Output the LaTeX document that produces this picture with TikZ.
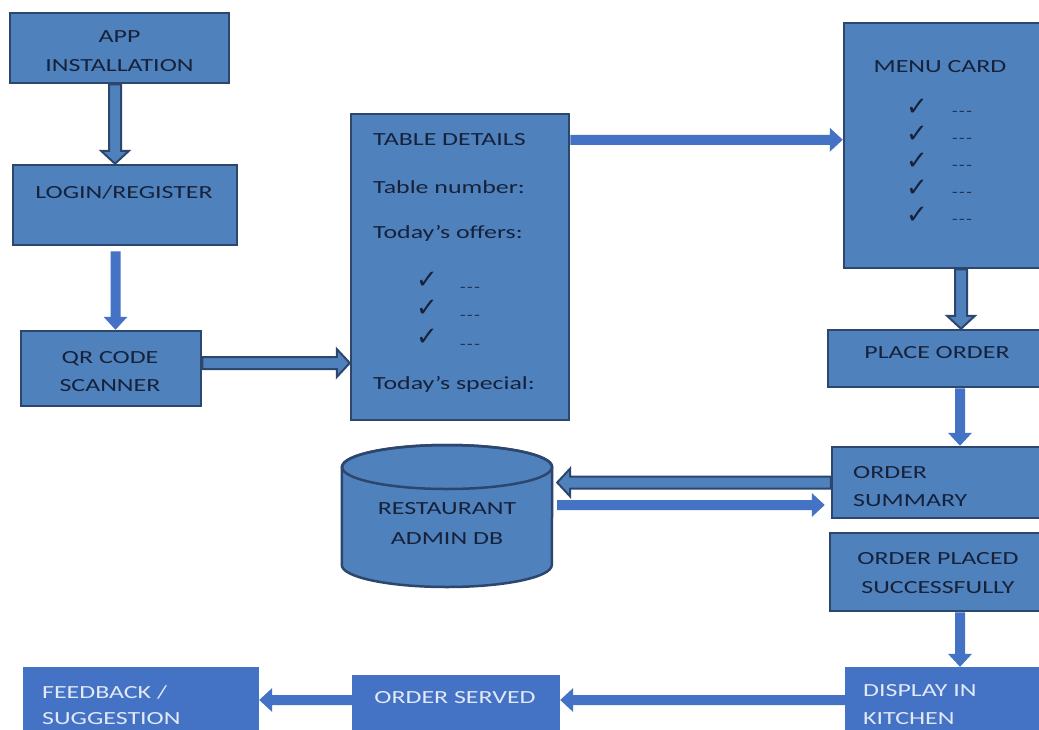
\documentclass[tikz,border=0pt]{standalone}
\usepackage{fontspec}
\setmainfont{Carlito}[FakeStretch=1.4]
\newfontfamily\symfont{DejaVu Sans}
\usetikzlibrary{calc,fit}

\definecolor{boxfill}{RGB}{79,129,189}
\definecolor{boxline}{RGB}{44,70,110}
\definecolor{brightfill}{RGB}{68,114,196}
\definecolor{darktext}{RGB}{22,33,58}
\definecolor{lighttext}{RGB}{226,233,246}

\tikzset{
 box/.style={draw=boxline, line width=2.5pt, fill=boxfill, inner sep=0pt, rectangle},
 bbox/.style={fill=brightfill, inner sep=0pt, rectangle},
 area/.style={inner sep=0pt, rectangle},
 txt/.style={inner sep=0pt, text height=12pt, text depth=0pt, text=darktext, font=\fontsize{18.5}{20}\selectfont},
 ltxt/.style={txt, text=lighttext},
 chk/.style={inner sep=0pt, text=darktext, font=\symfont\fontsize{26}{26}\selectfont},
 dsh/.style={inner sep=0pt, text=darktext, font=\fontsize{13}{13}\selectfont},
 fat/.style={to path={let \p1=(\tikztostart),\p2=(\tikztotarget),
   \n1={veclen(\x2-\x1,\y2-\y1)},\n2={(\x2-\x1)/\n1},\n3={(\y2-\y1)/\n1} in
   ({\x1-(\n3)*\fsw},{\y1+(\n2)*\fsw})
   -- ({\x2-(\n2)*\fhl-(\n3)*\fsw},{\y2-(\n3)*\fhl+(\n2)*\fsw})
   -- ({\x2-(\n2)*\fhl-(\n3)*\fhw},{\y2-(\n3)*\fhl+(\n2)*\fhw})
   -- (\p2)
   -- ({\x2-(\n2)*\fhl+(\n3)*\fhw},{\y2-(\n3)*\fhl-(\n2)*\fhw})
   -- ({\x2-(\n2)*\fhl+(\n3)*\fsw},{\y2-(\n3)*\fhl-(\n2)*\fsw})
   -- ({\x1+(\n3)*\fsw},{\y1-(\n2)*\fsw}) -- cycle}},
 solidarrow/.style={fat, fill=brightfill, draw=none, /utils/exec={\def\fsw{5pt}\def\fhw{12pt}\def\fhl{13pt}}},
 outlinearrow/.style={fat, fill=boxfill, draw=boxline, line width=2pt, line join=miter, /utils/exec={\def\fsw{6pt}\def\fhw{14pt}\def\fhl{13pt}}},
}

\begin{document}
\begin{tikzpicture}[x=1pt,y=-1pt]
\useasboundingbox (0,0) rectangle (1039,729);
\fill[white] (0,0) rectangle (1039,729);
\clip (0,0) rectangle (1039,729);

% boxes
\node[box, fit={(10,13) (229,83)}] (app) {};
\node[box, fit={(13,165) (237,245)}] (login) {};
\node[box, fit={(21,331) (201,406)}] (qr) {};
\node[box, fit={(351,114) (569,420)}] (table) {};
\node[box, fit={(844,23) (1045,268)}] (menu) {};
\node[box, fit={(828,330) (1045,387)}] (place) {};
\node[box, fit={(832,447) (1045,518)}] (sum) {};
\node[box, fit={(830,533) (1045,611)}] (placed) {};
\node[bbox, fit={(845,667) (1045,735)}] (display) {};
\node[bbox, fit={(352,675) (560,735)}] (served) {};
\node[bbox, fit={(23,667) (259,735)}] (feedback) {};
\node[area, fit={(342,445) (552,587)}] (db) {};

% database cylinder
\filldraw[draw=boxline, line width=2.5pt, fill=boxfill]
  (db.west |- 0,467) -- (db.west |- 0,565)
  arc[start angle=180, end angle=0, x radius=105, y radius=22]
  -- (db.east |- 0,467)
  arc[start angle=0, end angle=-180, x radius=105, y radius=22] -- cycle;
\draw[draw=boxline, line width=2.5pt] (447,467) ellipse [x radius=105, y radius=22];

% texts
\node[txt] at (119.5,36) {APP};
\node[txt] at (119.5,65) {INSTALLATION};
\node[txt] at (124,192) {LOGIN/REGISTER};
\node[txt] at (110,357) {QR CODE};
\node[txt] at (110,385) {SCANNER};

\node[txt, anchor=west] at (373,139) {TABLE DETAILS};
\node[txt, anchor=west] at (373,187) {Table number:};
\node[txt, anchor=west] at (373,232) {Today’s offers:};
\foreach \yy in {280,308,337} {
  \node[chk] at (427,\yy) {✓};
  \node[dsh] at (470,\yy+9) {-\kern1.5pt-\kern1.5pt-};
}
\node[txt, anchor=west] at (373,383) {Today’s special:};

\node[txt] at (940,66) {MENU CARD};
\foreach \yy in {107,134,161,188,215} {
  \node[chk] at (917,\yy) {✓};
  \node[dsh] at (962,\yy+6) {-\kern1.5pt-\kern1.5pt-};
}
\node[txt] at (937,352) {PLACE ORDER};
\node[txt, anchor=west] at (853,472) {ORDER};
\node[txt, anchor=west] at (853,500) {SUMMARY};
\node[txt] at (938,558) {ORDER PLACED};
\node[txt] at (938,587) {SUCCESSFULLY};
\node[ltxt, anchor=west] at (863,690) {DISPLAY IN};
\node[ltxt, anchor=west] at (863,718) {KITCHEN};
\node[ltxt] at (455,697) {ORDER SERVED};
\node[ltxt, anchor=west] at (42,692) {FEEDBACK /};
\node[ltxt, anchor=west] at (42,718) {SUGGESTION};
\node[txt] at (447,508) {RESTAURANT};
\node[txt] at (447,538) {ADMIN DB};

% connector end points
\coordinate (a1s) at ($(app.south)+(-4.5,0)$);
\coordinate (a2s) at ($(login.south)+(-9.5,5)$);
\coordinate (a3s) at ($(qr.east)+(0,-5.5)$);
\coordinate (a4s) at ($(table.north east)+(0,27)$);
\coordinate (a5s) at ($(menu.south)+(16.5,0)$);
\coordinate (a6s) at ($(place.south)+(23.5,0)$);
\coordinate (a7e) at ($(sum.west -| db.east)+(5,0)$);
\coordinate (a8s) at ($(db.east)+(5,-11)$);
\coordinate (a8e) at ($(a8s -| sum.west)+(-6,0)$);
\coordinate (a9s) at ($(placed.south)+(22.5,0)$);
\coordinate (a10s) at ($(display.west)+(0,-1)$);
\coordinate (a11s) at ($(served.west)+(0,-5)$);

% connectors
\draw[outlinearrow] (a1s) to (a1s |- login.north);
\draw[solidarrow] (a2s) to (a2s |- qr.north);
\draw[outlinearrow] (a3s) to (a3s -| table.west);
\draw[solidarrow] (a4s) to (a4s -| menu.west);
\draw[outlinearrow] (a5s) to (a5s |- place.north);
\draw[solidarrow] (a6s) to (a6s |- sum.north);
\draw[outlinearrow] (sum.west) to (a7e);
\draw[solidarrow] (a8s) to (a8e);
\draw[solidarrow] (a9s) to (a9s |- display.north);
\draw[solidarrow] (a10s) to (a10s -| served.east);
\draw[solidarrow] (a11s) to (a11s -| feedback.east);
\end{tikzpicture}
\end{document}
